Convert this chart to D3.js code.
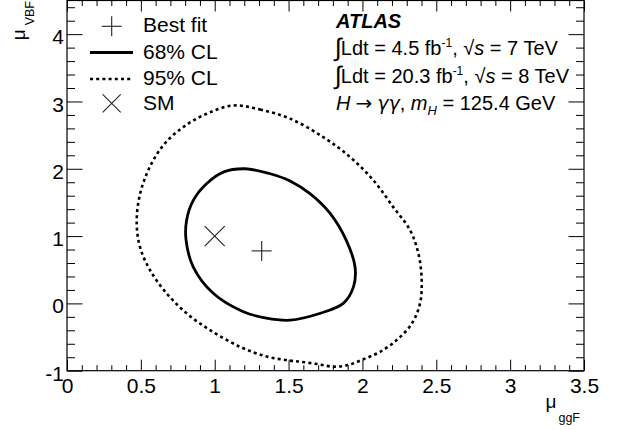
<!DOCTYPE html>
<html><head><meta charset="utf-8">
<script src="https://cdn.jsdelivr.net/npm/d3@7/dist/d3.min.js"></script>
<style>
html,body{margin:0;padding:0;background:#fff;}
svg{display:block;font-family:"Liberation Sans",Arial,Helvetica,sans-serif;}
</style></head>
<body>
<svg id="chart" width="623" height="430"></svg>
<script>
// ---- data ----
const xTickValues = [0, 0.5, 1, 1.5, 2, 2.5, 3, 3.5];
const xTickLabels = ["0", "0.5", "1", "1.5", "2", "2.5", "3", "3.5"];
const yTickValues = [-1, 0, 1, 2, 3, 4];
const yTickLabels = ["-1", "0", "1", "2", "3", "4"];

const cl68X = [1.205, 1.37, 1.51, 1.645, 1.78, 1.89, 1.95, 1.94, 1.87, 1.71, 1.51, 1.35, 1.19, 0.99, 0.855, 0.806, 0.81, 0.855, 0.946, 1.058];
const cl68Y = [2.00, 1.93, 1.82, 1.63, 1.34, 0.94, 0.54, 0.25, 0.0, -0.15, -0.25, -0.22, -0.12, 0.15, 0.54, 0.94, 1.24, 1.53, 1.78, 1.95];

const cl95X = [1.126, 1.307, 1.51, 1.735, 1.916, 2.074, 2.209, 2.322, 2.379, 2.401, 2.39, 2.334, 2.232, 2.119, 2.006, 1.905, 1.803, 1.691, 1.578, 1.51, 1.352, 1.171, 0.968, 0.81, 0.675, 0.562, 0.494, 0.472, 0.49, 0.55, 0.652, 0.787, 0.946];
const cl95Y = [2.94, 2.88, 2.745, 2.47, 2.175, 1.83, 1.43, 1.09, 0.74, 0.35, 0.0, -0.30, -0.545, -0.72, -0.83, -0.915, -0.94, -0.90, -0.866, -0.85, -0.79, -0.644, -0.396, -0.148, 0.148, 0.494, 0.84, 1.186, 1.582, 1.978, 2.349, 2.62, 2.818];

const bestFit = [1.318, 0.78];
const smPoint = [1.0, 1.0];

const legendLabels = ["Best fit", "68% CL", "95% CL", "SM"];

// ---- layout ----
const svg = d3.select("#chart");
const L = 67, R = 584, T = 0.5, B = 370.7;
const x = d3.scaleLinear().domain([0, 3.5]).range([L, R]);
const y = d3.scaleLinear().domain([-1, 4.5]).range([B, T]);

const majLenX = 11, minLenX = 5.5, majLenY = 15.5, minLenY = 8;
const xMinor = d3.range(0, 3.5001, 0.1).filter(v => Math.abs(v*2 - Math.round(v*2)) > 1e-6);
const yMinor = d3.range(-1, 4.5001, 0.2).filter(v => Math.abs(v - Math.round(v)) > 1e-6);

// bottom & top axes ticks
const gx = svg.append("g").attr("transform", `translate(0,${B})`)
  .call(d3.axisBottom(x).tickValues(xTickValues).tickFormat((d,i)=>xTickLabels[i]).tickSizeInner(-majLenX).tickSizeOuter(0).tickPadding(11));
svg.append("g").attr("transform", `translate(0,${B})`)
  .call(d3.axisBottom(x).tickValues(xMinor).tickFormat("").tickSizeInner(-minLenX).tickSizeOuter(0));
svg.append("g").attr("transform", `translate(0,${T})`)
  .call(d3.axisTop(x).tickValues(xTickValues).tickFormat("").tickSizeInner(-majLenX).tickSizeOuter(0));
svg.append("g").attr("transform", `translate(0,${T})`)
  .call(d3.axisTop(x).tickValues(xMinor).tickFormat("").tickSizeInner(-minLenX).tickSizeOuter(0));

const gy = svg.append("g").attr("transform", `translate(${L},0)`)
  .call(d3.axisLeft(y).tickValues(yTickValues).tickFormat((d,i)=>yTickLabels[i]).tickSizeInner(-majLenY).tickSizeOuter(0).tickPadding(4));
svg.append("g").attr("transform", `translate(${L},0)`)
  .call(d3.axisLeft(y).tickValues(yMinor).tickFormat("").tickSizeInner(-minLenY).tickSizeOuter(0));
svg.append("g").attr("transform", `translate(${R},0)`)
  .call(d3.axisRight(y).tickValues(yTickValues).tickFormat("").tickSizeInner(-majLenY).tickSizeOuter(0));
svg.append("g").attr("transform", `translate(${R},0)`)
  .call(d3.axisRight(y).tickValues(yMinor).tickFormat("").tickSizeInner(-minLenY).tickSizeOuter(0));

svg.selectAll(".domain").remove();
svg.selectAll(".tick line").attr("stroke", "#000").attr("stroke-width", 1);
svg.selectAll(".tick text").attr("font-family", "Liberation Sans, Arial, sans-serif").attr("font-size", 21).attr("fill", "#000");
gx.selectAll(".tick text").attr("dy", null).attr("y", 22);
gy.selectAll(".tick text").attr("dy", "0.36em").attr("x", -3).attr("y", 2);

// frame
svg.append("rect").attr("x", L).attr("y", T).attr("width", R - L).attr("height", B - T)
  .attr("fill", "none").attr("stroke", "#000").attr("stroke-width", 1.2);

// contours
const line = d3.line().x(d => x(d[0])).y(d => y(d[1])).curve(d3.curveCatmullRomClosed.alpha(0.5));
const c95 = cl95X.map((v,i)=>[v, cl95Y[i]]);
const c68 = cl68X.map((v,i)=>[v, cl68Y[i]]);
svg.append("path").attr("d", line(c95)).attr("fill", "none").attr("stroke", "#000")
  .attr("stroke-width", 2.6).attr("stroke-dasharray", "3,3.2");
svg.append("path").attr("d", line(c68)).attr("fill", "none").attr("stroke", "#000")
  .attr("stroke-width", 2.8);

// markers
function plus(g, cx, cy, s) {
  g.append("line").attr("x1", cx - s).attr("x2", cx + s).attr("y1", cy).attr("y2", cy);
  g.append("line").attr("x1", cx).attr("x2", cx).attr("y1", cy - s).attr("y2", cy + s);
}
function cross(g, cx, cy, s) {
  g.append("line").attr("x1", cx - s).attr("x2", cx + s).attr("y1", cy - s).attr("y2", cy + s);
  g.append("line").attr("x1", cx - s).attr("x2", cx + s).attr("y1", cy + s).attr("y2", cy - s);
}
const mk = svg.append("g").attr("stroke", "#222").attr("stroke-width", 1.1);
plus(mk, x(bestFit[0]), y(bestFit[1]), 10);
cross(mk, x(smPoint[0]), y(smPoint[1]), 10);

// legend
const lg = svg.append("g");
const lgBase = [32.3, 59, 84.5, 110];
const lm = lg.append("g").attr("stroke", "#222").attr("stroke-width", 1.1);
plus(lm, 111.7, 26.3, 10);
lg.append("line").attr("x1", 90).attr("x2", 133).attr("y1", 52.5).attr("y2", 52.5).attr("stroke", "#000").attr("stroke-width", 2.8);
lg.append("line").attr("x1", 90).attr("x2", 133).attr("y1", 79).attr("y2", 79).attr("stroke", "#000").attr("stroke-width", 2.6).attr("stroke-dasharray", "3,3.2");
cross(lm, 111.7, 103.3, 9);
lg.selectAll("text.leg").data(legendLabels).join("text").attr("class", "leg")
  .attr("x", 143).attr("y", (d,i) => lgBase[i]).attr("font-size", 21).text(d => d);

// ATLAS labels
const tx = 335;
svg.append("text").attr("x", tx + 1).attr("y", 28.3).attr("font-size", 20).attr("font-weight", "bold").attr("font-style", "italic").text("ATLAS");

function lumiLine(yb, lumi, energy) {
  const t = svg.append("text").attr("x", tx).attr("y", yb).attr("font-size", 20);
  t.append("tspan").attr("font-size", 25).attr("dy", 1).text("∫");
  t.append("tspan").attr("dy", -1).attr("dx", -1).text("Ldt = " + lumi + " fb");
  t.append("tspan").attr("font-size", 12).attr("dy", -8).text("-1");
  t.append("tspan").attr("dy", 8).text(", ");
  t.append("tspan").text("√");
  t.append("tspan").attr("font-style", "italic").text("s");
  t.append("tspan").text(" = " + energy + " TeV");
}
lumiLine(55, "4.5", "7");
lumiLine(82.7, "20.3", "8");

const t4 = svg.append("text").attr("x", tx + 1).attr("y", 110).attr("font-size", 20);
t4.append("tspan").attr("font-style", "italic").text("H");
t4.append("tspan").attr("dx", 5).attr("font-family", "DejaVu Sans").attr("font-size", 20).text("→");
t4.append("tspan").attr("dx", 5).attr("font-style", "italic").attr("font-family", "DejaVu Sans").attr("font-size", 19).text("γγ");
t4.append("tspan").text(", ");
t4.append("tspan").attr("font-style", "italic").text("m");
t4.append("tspan").attr("font-style", "italic").attr("font-size", 13).attr("dy", 5).text("H");
t4.append("tspan").attr("dy", -5).text(" = 125.4 GeV");

// axis titles
const xt = svg.append("text").attr("x", 580).attr("y", 408).attr("text-anchor", "end").attr("font-size", 19);
xt.append("tspan").text("μ");
xt.append("tspan").attr("font-size", 12.5).attr("dy", 14).attr("dx", 2).text("ggF");

const yt = svg.append("text").attr("transform", "translate(25,1) rotate(-90)").attr("text-anchor", "end").attr("font-size", 19);
yt.append("tspan").text("μ");
yt.append("tspan").attr("font-size", 12.5).attr("dy", 9).attr("dx", 4).text("VBF");
</script>
</body></html>
